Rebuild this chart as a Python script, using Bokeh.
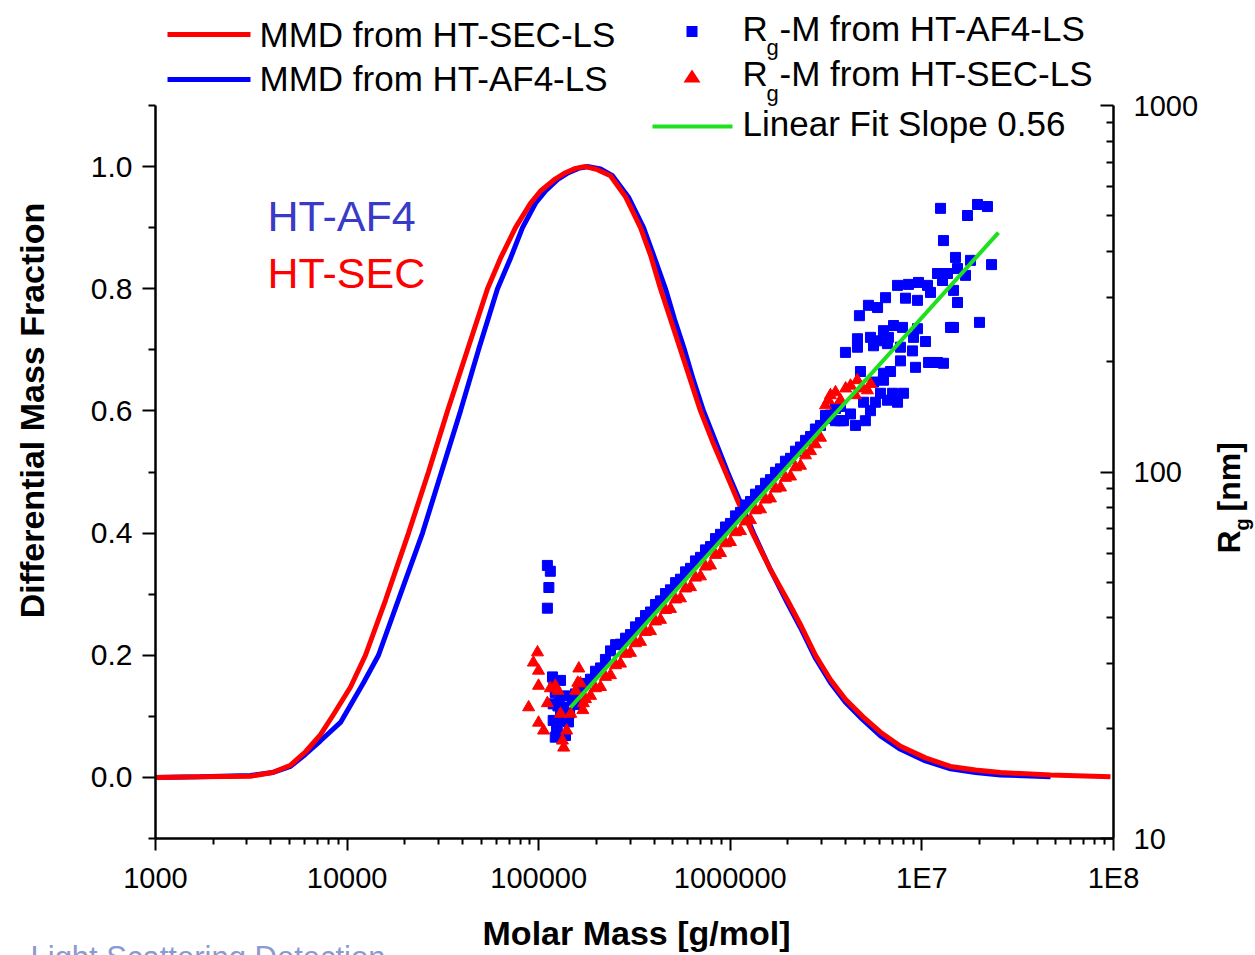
import math
from bokeh.plotting import figure
from bokeh.models import (Range1d, LogScale, LinearAxis, LogAxis, FixedTicker, NumeralTickFormatter,
                          CustomJSTickFormatter, Label, BoxAnnotation, PolyAnnotation)
from bokeh.embed import file_html
from bokeh.resources import INLINE

# ---------------- data ----------------
# MMD from HT-SEC-LS (red)
sec_mmd_M = [1000, 1718, 3132, 4080, 5065, 6066, 7264, 8492, 10420, 12470, 15860, 20920,
             26590, 33420, 42500, 54050, 63180, 75660, 90620, 102200, 122400, 138000, 155700,
             175500, 202700, 236900, 284600, 339900, 383300, 432200, 487400, 549700, 619900,
             699000, 807400, 943900, 1103000, 1306000, 1621000, 1989000, 2325000, 2784000,
             3334000, 3990000, 4898000, 6081000, 7733000, 10440000, 14100000, 19040000,
             25720000, 46920000, 96450000]
sec_mmd_val = [0.0, 0.001, 0.002, 0.008, 0.02, 0.042, 0.07, 0.103, 0.148, 0.2, 0.29, 0.4,
               0.5, 0.6, 0.7, 0.8, 0.85, 0.9, 0.94, 0.96, 0.98, 0.99, 0.997,
               1.0, 0.995, 0.985, 0.95, 0.9, 0.855, 0.8, 0.75, 0.7, 0.65,
               0.6, 0.55, 0.5, 0.45, 0.4, 0.34, 0.29, 0.25, 0.2,
               0.16, 0.128, 0.1, 0.074, 0.051, 0.032, 0.018, 0.012,
               0.008, 0.004, 0.001]

# MMD from HT-AF4-LS (blue)
af4_mmd_M = [1000, 1718, 3132, 4080, 5065, 6066, 7264, 9238, 12180, 14580, 18990, 24750,
             31090, 39070, 48520, 60950, 71270, 82320, 96230, 108500, 126900, 143000, 161300,
             181900, 210200, 242700, 294200, 352400, 397400, 459000, 511400, 576800, 642600,
             724600, 837100, 967000, 1130000, 1322000, 1621000, 1989000, 2325000, 2784000,
             3334000, 3990000, 4898000, 6081000, 7733000, 10440000, 14100000, 19040000,
             25720000, 46920000]
af4_mmd_val = [0.0, 0.001, 0.003, 0.008, 0.018, 0.038, 0.06, 0.09, 0.155, 0.2, 0.3, 0.4,
               0.5, 0.6, 0.7, 0.8, 0.85, 0.9, 0.94, 0.96, 0.98, 0.99, 0.997,
               1.0, 0.996, 0.985, 0.95, 0.9, 0.855, 0.8, 0.75, 0.7, 0.65,
               0.6, 0.55, 0.5, 0.45, 0.4, 0.34, 0.285, 0.245, 0.195,
               0.155, 0.123, 0.095, 0.068, 0.046, 0.027, 0.014, 0.008,
               0.004, 0.001]

# Rg-M from HT-AF4-LS (blue squares)
af4_rg_M = [1.11e5, 1.15e5, 1.13e5, 1.11e5,
            1.18e5, 1.30e5, 1.22e5, 1.38e5, 1.50e5, 1.19e5, 1.30e5, 1.19e5, 1.24e5, 1.22e5,
            1.38e5, 1.56e5, 1.43e5, 1.26e5, 1.33e5, 1.20e5, 1.28e5, 1.35e5, 1.45e5, 1.25e5,
            1.556e5, 1.653e5, 1.755e5, 1.864e5, 1.979e5, 2.102e5, 2.23e5, 2.37e5, 2.52e5,
            2.673e5, 2.84e5, 3.014e5, 3.20e5, 3.399e5, 3.61e5, 3.833e5, 4.07e5, 4.322e5,
            4.59e5, 4.874e5, 5.18e5, 5.497e5, 5.84e5, 6.199e5, 6.58e5, 6.99e5, 7.42e5,
            7.883e5, 8.37e5, 8.89e5, 9.44e5, 1.002e6, 1.064e6, 1.13e6, 1.20e6, 1.275e6,
            1.354e6, 1.438e6, 1.527e6, 1.621e6, 1.722e6, 1.828e6, 1.94e6, 2.062e6, 2.19e6,
            2.325e6, 2.47e6, 2.622e6, 2.78e6, 2.957e6, 3.14e6, 3.334e6, 3.54e6, 3.76e6,
            3.14e6, 3.54e6, 4.50e6, 5.07e6, 5.39e6, 5.72e6, 3.76e6,
            3.90e6, 4.24e6, 4.96e6, 6.61e6, 7.46e6, 6.08e6, 7.03e6, 8.02e6, 5.59e6, 6.30e6,
            4.78e6, 6.30e6, 6.86e6, 9.26e6, 7.73e6, 1.109e7, 1.296e7, 1.206e7, 1.083e7,
            3.99e6, 4.61e6, 5.59e6, 6.61e6, 7.73e6, 8.93e6, 4.61e6, 5.39e6, 6.08e6, 6.69e6,
            9.04e6, 1.044e7, 6.30e6, 7.11e6, 7.92e6, 9.48e6, 1.41e7, 1.462e7, 1.998e7,
            4.72e6, 5.26e6, 5.87e6, 6.46e6, 8.21e6, 9.48e6, 7.46e6, 8.51e6, 9.60e6, 1.070e7,
            1.109e7, 1.206e7, 1.360e7, 1.534e7, 1.689e7, 1.281e7, 1.462e7, 1.534e7, 1.296e7,
            1.498e7, 1.794e7, 2.309e7, 1.251e7, 1.730e7, 1.951e7, 2.199e7]
af4_rg = [55.6, 53.6, 48.4, 42.5,
          27.6, 27.0, 25.0, 24.5, 23.8, 23.3, 22.1, 21.0, 19.7, 18.9,
          19.1, 23.2, 20.8, 23.0, 21.0, 26.0, 24.0, 22.8, 22.0, 20.2,
          24.8, 25.6, 26.5, 27.2, 28.6, 29.2, 30.8, 32.5, 33.8,
          33.9, 35.2, 36.0, 37.8, 38.8, 40.6, 41.5, 43.5, 44.5,
          46.6, 47.7, 49.9, 51.0, 53.4, 54.6, 57.2, 58.5, 61.3,
          62.6, 65.8, 67.6, 70.8, 72.4, 75.9, 77.6, 81.3, 83.1,
          87.0, 88.9, 93.2, 95.3, 99.8, 102, 107, 109, 114,
          117, 122, 125, 131, 134, 140, 143, 149, 151,
          142.6, 138, 134, 138, 147, 155, 138,
          138, 144, 155, 157, 155, 164, 164, 164, 176, 178,
          188, 186, 188, 193, 201, 199, 198, 199, 199,
          212, 219, 221, 224, 219, 214, 231, 233, 228, 233,
          233, 227, 243, 251, 248, 246, 248, 248, 256,
          267, 285, 281, 299, 298, 294, 323, 325, 329, 323,
          309, 348, 348, 359, 344, 333, 313, 290, 428,
          385, 378, 368, 524, 501, 537, 530]

# Rg-M from HT-SEC-LS (red triangles)
sec_rg_M = [9.86e4, 9.38e4, 9.98e4, 9.98e4, 8.86e4, 1.11e5, 9.98e4, 1.06e5, 1.22e5, 1.26e5,
            1.15e5, 1.62e5, 1.60e5, 1.65e5, 1.30e5, 1.47e5, 1.40e5, 1.33e5, 1.35e5, 1.71e5,
            1.70e5, 1.56e5,
            1.755e5, 1.864e5, 1.979e5, 2.102e5, 2.23e5, 2.37e5, 2.52e5, 2.673e5, 2.84e5,
            3.014e5, 3.20e5, 3.399e5, 3.61e5, 3.833e5, 4.07e5, 4.322e5, 4.59e5, 4.874e5,
            5.18e5, 5.497e5, 5.84e5, 6.199e5, 6.58e5, 6.99e5, 7.42e5, 7.883e5, 8.37e5,
            8.89e5, 9.44e5, 1.002e6, 1.064e6, 1.13e6, 1.20e6, 1.275e6, 1.354e6, 1.438e6,
            1.527e6, 1.621e6, 1.722e6, 1.828e6, 1.94e6, 2.062e6, 2.19e6, 2.325e6, 2.47e6,
            2.622e6, 2.78e6, 2.957e6,
            3.14e6, 3.33e6, 3.54e6, 3.76e6, 4.0e6, 4.24e6, 4.6e6, 4.9e6, 5.2e6, 5.39e6,
            4.5e6, 3.25e6]
sec_rg = [32.2, 30.2, 28.7, 26.1, 22.8, 23.4, 20.7, 19.7, 26.1, 25.3,
          25.7, 29.1, 26.6, 26.5, 21.9, 21.9, 19.7, 18.5, 17.7, 23.4,
          22.4, 25.3,
          24.0, 24.5, 25.7, 25.9, 27.6, 27.9, 29.7, 30.0, 31.9,
          32.1, 34.1, 34.4, 36.6, 36.8, 39.1, 39.5, 42.0, 42.3,
          44.9, 45.2, 48.1, 48.5, 51.5, 51.9, 55.2, 55.6, 59.4,
          60.1, 63.9, 64.4, 68.5, 69.0, 73.3, 73.9, 78.6, 79.1,
          84.1, 84.7, 90.1, 90.7, 96.4, 97.2, 103, 104, 111,
          114, 119, 124,
          152, 162, 165, 157, 169, 172, 178, 169, 167, 174,
          162, 157]

# Linear fit (slope 0.56) end points
fit_M = [1.466e5, 2.51e7]
fit_rg = [22.8, 450]

x_ticks = [1e3, 1e4, 1e5, 1e6, 1e7, 1e8]
x_tick_labels = ["1000", "10000", "100000", "1000000", "1E7", "1E8"]
y_ticks = [0.0, 0.2, 0.4, 0.6, 0.8, 1.0]
rg_ticks = [10, 100, 1000]

# ---------------- layout constants (canvas pixels) ----------------
W, H = 1255, 955
PL, PR, PT, PB = 155, 1113, 105, 838     # plotting box inside the canvas
X_LO, X_HI = 1e3, 1e8                    # molar mass axis extent
Y_LO, Y_HI = -0.1, 1.1                   # left axis extent
R_LO, R_HI = 10.0, 1000.0                # right axis extent

# the frame covers the whole canvas; the axes are pinned at the plotting box edges
xdec = math.log10(X_HI / X_LO) / (PR - PL)
x_range = Range1d(10 ** (math.log10(X_LO) - PL * xdec), 10 ** (math.log10(X_HI) + (W - PR) * xdec))
yper = (Y_HI - Y_LO) / (PB - PT)
y_range = Range1d(Y_LO - (H - PB) * yper, Y_HI + PT * yper)
rdec = math.log10(R_HI / R_LO) / (PB - PT)
r_range = Range1d(10 ** (math.log10(R_LO) - (H - PB) * rdec), 10 ** (math.log10(R_HI) + PT * rdec))

p = figure(width=W, height=H, x_axis_type="log", x_range=x_range, y_range=y_range,
           x_axis_location=None, y_axis_location=None, title=None,
           output_backend="svg", toolbar_location=None, min_border=0)
p.outline_line_color = None
p.background_fill_color = "white"
p.border_fill_color = "white"
for g in p.grid:
    g.visible = False
p.extra_y_ranges = {"rg": r_range}
p.extra_y_scales = {"rg": LogScale()}

def style_axis(ax, size, tick_in, tick_out, mtick_in, mtick_out, standoff, font="Liberation Sans"):
    ax.axis_line_width = 2.5
    ax.axis_line_color = "black"
    ax.major_tick_line_width = 2
    ax.minor_tick_line_width = 2
    ax.major_tick_in = tick_in
    ax.major_tick_out = tick_out
    ax.minor_tick_in = mtick_in
    ax.minor_tick_out = mtick_out
    ax.major_label_text_font = font
    ax.major_label_text_font_size = size
    ax.major_label_text_color = "black"
    ax.major_label_standoff = standoff

xa = LogAxis(fixed_location=Y_LO, bounds=(X_LO, X_HI),
             ticker=FixedTicker(ticks=x_ticks,
                                minor_ticks=[m * 10 ** d for d in range(3, 8) for m in range(2, 10)]),
             formatter=CustomJSTickFormatter(args=dict(labels=x_tick_labels),
                                             code="return labels[Math.round(Math.log10(tick)) - 3];"))
style_axis(xa, "29px", 0, 12, 0, 6, 11)
p.add_layout(xa, "below")

ya = LinearAxis(fixed_location=X_LO, bounds=(Y_LO, Y_HI),
                ticker=FixedTicker(ticks=y_ticks, minor_ticks=[-0.1, 0.1, 0.3, 0.5, 0.7, 0.9, 1.1]),
                formatter=NumeralTickFormatter(format="0.0"))
style_axis(ya, "30px", 0, 13, 0, 7, 10)
p.add_layout(ya, "left")

ra = LogAxis(y_range_name="rg", fixed_location=X_HI, bounds=(R_LO, R_HI),
             ticker=FixedTicker(ticks=rg_ticks,
                                minor_ticks=[m * 10 ** d for d in range(1, 3) for m in range(2, 10)]),
             formatter=CustomJSTickFormatter(code="return tick.toFixed(0);"))
style_axis(ra, "29px", 13, 0, 7, 0, 20)
p.add_layout(ra, "right")

# ---------------- glyphs ----------------
p.line(af4_mmd_M, af4_mmd_val, color="#0000ff", line_width=5)
p.line(sec_mmd_M, sec_mmd_val, color="#ff0000", line_width=5)
p.scatter(af4_rg_M, af4_rg, marker="square", size=10, color="#0000ff", y_range_name="rg")
p.scatter(sec_rg_M, sec_rg, marker="triangle", size=12, color="#ff0000", y_range_name="rg")
p.line(fit_M, fit_rg, color="#1fe01f", line_width=4, y_range_name="rg")

# ---------------- texts (screen units: frame == canvas, origin bottom-left) ----------------
def sx(cx):
    return cx

def sy(cy):
    return H - cy

def label(cx, cy, text, size, color="black", font="Liberation Sans", style="normal",
          align="left", angle=0.0):
    p.add_layout(Label(x=sx(cx), y=sy(cy), x_units="screen", y_units="screen", text=text,
                       text_font=font, text_font_size=size, text_font_style=style,
                       text_color=color, text_align=align, text_baseline="middle",
                       angle=angle))

def hbar(x0, x1, cy, color, thick):
    p.add_layout(BoxAnnotation(left=sx(x0), right=sx(x1), bottom=sy(cy) - thick / 2,
                               top=sy(cy) + thick / 2, left_units="screen", right_units="screen",
                               bottom_units="screen", top_units="screen", fill_color=color,
                               fill_alpha=1.0, line_alpha=0.0))

# legend, left column
hbar(167, 250, 34, "#ff0000", 5)
label(259, 34, "MMD from HT-SEC-LS", "35px")
hbar(167, 250, 79, "#0000ff", 5)
label(259, 78, "MMD from HT-AF4-LS", "35px")

# legend, right column
p.add_layout(BoxAnnotation(left=sx(686), right=sx(697), bottom=sy(36.5), top=sy(25.5),
                           left_units="screen", right_units="screen", bottom_units="screen",
                           top_units="screen", fill_color="#0000ff", fill_alpha=1.0, line_alpha=0.0))
label(742, 28, "R", "35px")
label(766, 47, "g", "22px")
label(779, 28, "-M from HT-AF4-LS", "35px")

p.add_layout(PolyAnnotation(xs=[sx(683), sx(700), sx(691.5)], ys=[sy(82), sy(82), sy(69)],
                            xs_units="screen", ys_units="screen", fill_color="#ff0000",
                            fill_alpha=1.0, line_alpha=0.0))
label(742, 73, "R", "35px")
label(766, 93, "g", "22px")
label(779, 73, "-M from HT-SEC-LS", "35px")

hbar(652, 732, 126, "#1fe01f", 4)
label(742, 123, "Linear Fit Slope 0.56", "35px")

# in-plot annotations
label(267, 215, "HT-AF4", "43px", color="#3a3ac8")
label(267, 272, "HT-SEC", "43px", color="#ff0000")

# axis titles
label(31, 410, "Differential Mass Fraction", "34px", style="bold",
      align="center", angle=math.pi / 2)
label(636, 932, "Molar Mass [g/mol]", "34px", style="bold", align="center")
label(1228, 553, "R", "32px", style="bold", angle=math.pi / 2)
label(1241, 530, "g", "20px", style="bold", angle=math.pi / 2)
label(1228, 511, "[nm]", "32px", style="bold", angle=math.pi / 2)

# text cut off by the bottom edge of the picture (as in the source image)
label(30, 957, "Light Scattering Detection", "31px", color="#8a9ad0")

open("out.html", "w").write(file_html(p, INLINE))
